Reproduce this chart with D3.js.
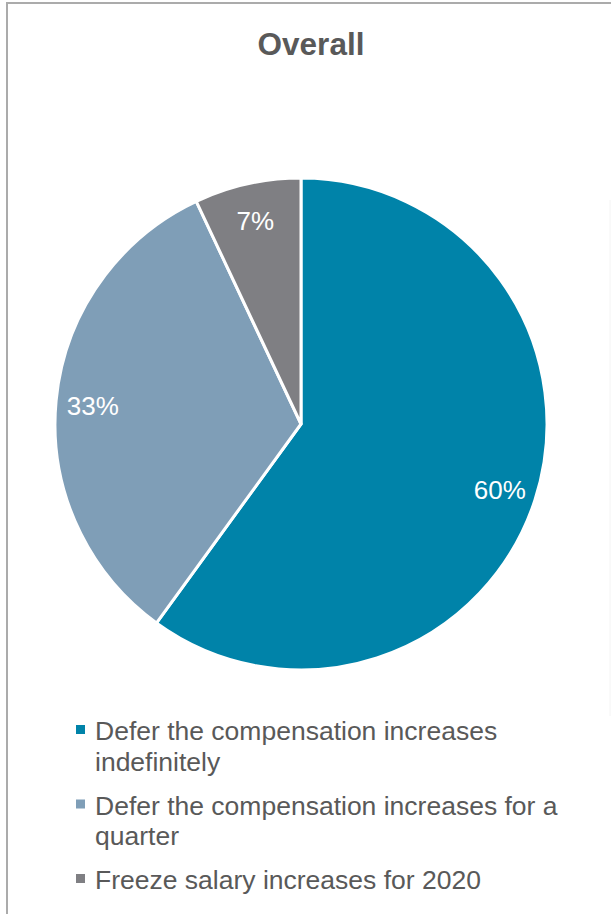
<!DOCTYPE html>
<html>
<head>
<meta charset="utf-8">
<script src="https://cdn.jsdelivr.net/npm/d3@7"></script>
<style>
  html, body { margin: 0; padding: 0; background: #fff; }
  svg { display: block; font-family: "Liberation Sans", Arial, sans-serif; }
</style>
</head>
<body>
<svg id="chart" width="611" height="914"></svg>
<script>
// Survey responses: how companies handle planned compensation increases
const title = "Overall";
const categories = [
  "Defer the compensation increases indefinitely",
  "Defer the compensation increases for a quarter",
  "Freeze salary increases for 2020"
];
const values = [60, 33, 7];
const colors = ["#0083a9", "#7f9eb7", "#7f7f83"];

const W = 611, H = 914;
const svg = d3.select("#chart");

// frame
svg.append("path")
  .attr("d", `M7,${H} V3 H${W}`)
  .attr("fill", "none")
  .attr("stroke", "#ababab")
  .attr("stroke-width", 2);
svg.append("line")
  .attr("x1", 610).attr("x2", 610).attr("y1", 200).attr("y2", 716)
  .attr("stroke", "#f4f4f4").attr("stroke-width", 1);

// title
svg.append("text")
  .attr("x", 311).attr("y", 55)
  .attr("text-anchor", "middle")
  .attr("font-size", 31.5)
  .attr("font-weight", "bold")
  .attr("fill", "#595959")
  .text(title);

// pie
const cx = 301, cy = 424, R = 246;
const pie = d3.pie().sort(null).value(d => d.value);
const arcs = pie(values.map((v, i) => ({ value: v, name: categories[i], color: colors[i] })));
const arc = d3.arc().innerRadius(0).outerRadius(R);
const labelArc = d3.arc().innerRadius(R * 0.85).outerRadius(R * 0.85);

const g = svg.append("g").attr("transform", `translate(${cx},${cy})`);
g.selectAll("path.slice")
  .data(arcs)
  .join("path")
  .attr("class", "slice")
  .attr("d", arc)
  .attr("fill", d => d.data.color)
  .attr("stroke", "#fff")
  .attr("stroke-width", 3)
  .attr("stroke-linejoin", "round");

g.selectAll("text.pct")
  .data(arcs)
  .join("text")
  .attr("class", "pct")
  .attr("transform", d => `translate(${labelArc.centroid(d)})`)
  .attr("text-anchor", "middle")
  .attr("dy", "0.4em")
  .attr("font-size", 26)
  .attr("fill", "#fff")
  .text(d => d.data.value + "%");

// legend
const legX = 95, wrapW = 475, lineH = 30.5, itemGap = 13.5;
const fontSize = 26.5;
let baseline = 740;
const legend = svg.append("g");
categories.forEach((name, i) => {
  const item = legend.append("g");
  item.append("rect")
    .attr("x", 76).attr("y", baseline - 15)
    .attr("width", 9).attr("height", 9)
    .attr("fill", colors[i]);
  const t = item.append("text")
    .attr("font-size", fontSize)
    .attr("fill", "#595959");
  // wrap words into lines that fit the legend width
  const words = name.split(" ");
  let line = [];
  let lines = [];
  const probe = t.append("tspan");
  words.forEach(w => {
    const trial = line.concat(w).join(" ");
    probe.text(trial);
    if (probe.node().getComputedTextLength() > wrapW && line.length) {
      lines.push(line.join(" "));
      line = [w];
    } else {
      line.push(w);
    }
  });
  lines.push(line.join(" "));
  probe.remove();
  lines.forEach((ln, k) => {
    t.append("tspan")
      .attr("x", legX)
      .attr("y", baseline + k * lineH)
      .text(ln);
  });
  baseline += lines.length * lineH + itemGap;
});
</script>
</body>
</html>
